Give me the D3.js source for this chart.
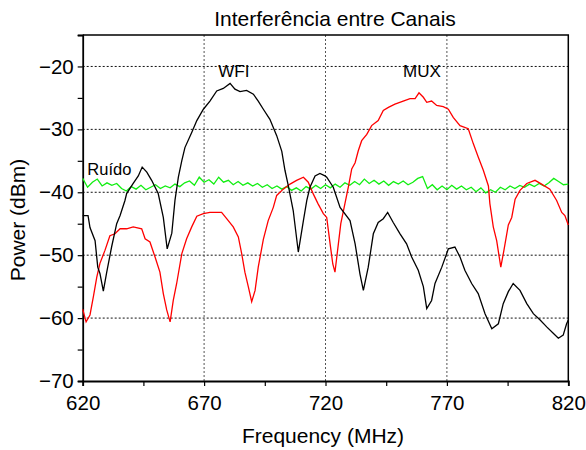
<!DOCTYPE html>
<html>
<head>
<meta charset="utf-8">
<script src="https://cdn.jsdelivr.net/npm/d3@7"></script>
<style>
  body { margin: 0; background: #fff; }
  text { font-family: "Liberation Sans", Arial, sans-serif; fill: #000; }
</style>
</head>
<body>
<div id="chart-area"></div>
<script>
// SVG Size
let width = 586,
	height = 450;

// WFI channel (black)
const wfiFreq = [620, 622.2, 623, 625.1, 626.2, 627.1, 628.5, 629.9, 631.9, 634, 635.4, 637.4, 638.1, 640.8, 642.9, 644.5,
	646.4, 648.4, 651.1, 653.2, 654.8, 656.7, 658, 659.4, 660.8, 662.1, 664.9, 667, 669.7, 672.4, 675.2, 677.9,
	680.7, 682.7, 684.8, 687.5, 690.3, 692.3, 694.4, 697.1, 699.9, 702, 703.3, 704.7, 706.7, 708.8, 710.9, 712.3,
	713.6, 715.7, 717.7, 719.8, 720.5, 723.2, 726, 730.1, 732.2, 734.2, 735.6, 737.6, 739.7, 741.7, 743.8, 745.6,
	747.9, 750.7, 753.4, 755.5, 758.2, 760.3, 761.7, 763.7, 765.1, 767.9, 770.6, 773.3, 775.4, 777.4, 780.2, 782.9,
	785.7, 788.5, 791.2, 793.2, 795.3, 797.3, 800.1, 802.9, 805.6, 808.4, 811.1, 813.8, 815.9, 817.9, 819.3, 820];
const wfiPower = [-43.7, -43.7, -45.6, -47.7, -51.9, -52.9, -55.7, -52.7, -48.7, -45, -43.7, -41.3, -40.2, -38.6, -37.4, -36,
	-36.8, -38.1, -40.2, -44, -49, -46.5, -41.3, -37.6, -35, -32.9, -30.5, -28.6, -26.8, -25.5, -23.9, -23.5,
	-22.7, -23.6, -24, -23.8, -24.4, -25.5, -26.8, -28.4, -31, -33.5, -36.5, -39, -42.9, -49.5, -44.5, -41.3,
	-39.2, -37.4, -37, -37.4, -37.6, -39.2, -42.4, -44.5, -48.2, -53, -55.6, -51.9, -46.6, -44.8, -44.2, -43.2,
	-44.8, -46.6, -48.2, -50.3, -52.4, -55, -58.5, -57.2, -54.5, -51.9, -49, -48.7, -50.3, -52.4, -54.5, -56.1,
	-59.3, -61.7, -60.9, -57.7, -55.8, -54.5, -55.6, -57.7, -59.3, -60.3, -61.4, -62.4, -63.2, -62.7, -60.9, -60.3];

// MUX channel (red)
const muxFreq = [620, 621.4, 623, 624.4, 625.8, 627.1, 629.2, 631.2, 633.3, 635.4, 638.1, 640.8, 644.3, 645.7, 647.7, 649.8,
	651.8, 653.2, 654.6, 656, 657.3, 658.7, 660.8, 662.8, 664.9, 667, 669.7, 672.4, 675.2, 677.2, 679.3, 682,
	684.1, 685.5, 686.8, 688.2, 689.6, 691, 692.3, 694.4, 696.4, 698.5, 699.9, 702.6, 705.4, 708.1, 710.9, 712.9,
	715, 716.9, 719.1, 720.5, 721.9, 723, 723.9, 725.3, 726.3, 728, 729.4, 730.8, 732.2, 733.5, 734.9, 737,
	739, 741.7, 743.8, 745.9, 748.6, 752, 754.8, 756.9, 758.5, 760.3, 761.7, 763.7, 765.8, 768.5, 770.6, 772.6,
	775.4, 778.8, 780.9, 782.9, 785, 787.1, 787.7, 789.1, 790.5, 792.2, 793.5, 795.3, 796.7, 798.1, 800.1, 802.9,
	806.3, 809, 812.4, 815.2, 817.3, 818.6, 820];
const muxPower = [-58.6, -60.6, -59.5, -56.6, -53.5, -51.3, -49.2, -46.9, -46.6, -45.8, -45.8, -45.5, -45.8, -47.4, -47.9, -50.3,
	-52.7, -56.1, -58.7, -60.6, -57.2, -54.5, -49.8, -47.4, -45.5, -43.8, -43.4, -43.2, -43.2, -43.2, -44.2, -45.5,
	-47.1, -49.8, -52.7, -55, -57.4, -55.6, -51.9, -47.5, -44.5, -42.4, -40.5, -39.5, -38.7, -38.1, -37.6, -38.4,
	-40.3, -41.8, -43.4, -44, -48.2, -51.4, -52.7, -48.2, -45, -41.8, -39.2, -36.3, -35.3, -33.4, -31.8, -30.8,
	-29.4, -28.6, -27, -26.5, -26, -25.5, -25.1, -25.1, -24.2, -24.9, -25.7, -25.5, -26.2, -26.4, -26.8, -28.1,
	-29.4, -29.9, -32.3, -34.4, -36.5, -39, -41.8, -45.5, -47.7, -51.9, -49.2, -45.2, -44, -41.1, -39.7, -38.6,
	-38.1, -38.7, -39.5, -41.3, -43.2, -43.7, -45.2];

// Noise floor (green), every 2 MHz
const noiseFreq = d3.range(620, 821, 2);
const noisePower = [-37.8, -39.2, -38.4, -37.9, -39.0, -38.5, -38.9, -38.6, -39.4, -39.8, -39.1, -39.5, -38.9, -39.6, -39.2, -38.8,
	-39.4, -39.0, -39.3, -38.7, -39.1, -38.5, -38.2, -38.9, -37.6, -38.4, -38.0, -38.7, -37.6, -38.4, -38.1, -38.8,
	-38.3, -38.9, -38.5, -39.0, -38.6, -39.2, -38.8, -39.4, -39.0, -39.5, -39.1, -39.7, -39.3, -39.8, -39.1, -39.5,
	-38.9, -39.4, -38.8, -39.3, -38.7, -39.2, -38.5, -38.9, -38.3, -38.8, -37.9, -38.6, -38.1, -38.7, -38.2, -38.9,
	-38.3, -38.7, -38.2, -38.8, -38.4, -37.8, -37.5, -39.4, -38.8, -39.6, -39.0, -39.6, -38.9, -39.5, -39.0, -39.6,
	-39.2, -39.9, -39.3, -40.1, -39.6, -40.0, -39.2, -39.6, -39.0, -39.4, -38.9, -39.2, -38.7, -39.1, -38.6, -39.0,
	-38.5, -37.8, -38.3, -38.8, -38.7];

// ticks
const xTicks = d3.range(620, 821, 25);
const yTicks = d3.range(-70, -14, 5);
const xGrid = [670, 720, 770];
const yGrid = [-60, -50, -40, -30, -20];

let pLeft = 82.7, pRight = 568.3, pTop = 35, pBottom = 381;

let xScale = d3.scaleLinear()
			.domain([620, 820])
			.range([pLeft, pRight]);

let yScale = d3.scaleLinear()
			.domain([-70, -15])
			.range([pBottom, pTop]);

let svg = d3.select("#chart-area")
			.append('svg')
			.attr('width', width)
			.attr('height', height);

// grid
svg.append('g')
	.selectAll('line')
	.data(yGrid)
	.enter()
	.append('line')
	.attr('x1', pLeft)
	.attr('x2', pRight)
	.attr('y1', d => yScale(d))
	.attr('y2', d => yScale(d))
	.attr('stroke', '#111')
	.attr('stroke-width', 1)
	.attr('stroke-dasharray', '2,2');

svg.append('g')
	.selectAll('line')
	.data(xGrid)
	.enter()
	.append('line')
	.attr('x1', d => xScale(d))
	.attr('x2', d => xScale(d))
	.attr('y1', pTop)
	.attr('y2', pBottom)
	.attr('stroke', '#555')
	.attr('stroke-width', 1)
	.attr('stroke-dasharray', '2,2');

// frame top / right
svg.append('path')
	.attr('d', `M${pLeft},${pTop}H${pRight}V${pBottom}`)
	.attr('fill', 'none')
	.attr('stroke', '#000')
	.attr('stroke-width', 1.5);

let xAxis = d3.axisBottom(xScale)
			.tickValues(xTicks)
			.tickSize(5)
			.tickPadding(9)
			.tickFormat(d => d % 50 === 20 ? d : '');

let yAxis = d3.axisLeft(yScale)
			.tickValues(yTicks)
			.tickSize(5)
			.tickPadding(4)
			.tickFormat(d => d % 10 === 0 ? d3.format('')(d) : '');

let gx = svg.append('g')
			.attr('transform', 'translate(0,' + pBottom + ')')
			.call(xAxis);
let gy = svg.append('g')
			.attr('transform', 'translate(' + pLeft + ',0)')
			.call(yAxis);

[gx, gy].forEach(g => {
	g.select('.domain').attr('stroke-width', 1.8);
	g.selectAll('.tick line').attr('stroke-width', 1.2);
	g.selectAll('.tick text')
		.style('font-family', '"Liberation Sans", Arial, sans-serif')
		.style('font-size', '20.5px');
});

// series
let line = (fs, ps) => d3.line()
			.x((d, i) => xScale(fs[i]))
			.y(d => yScale(d))(ps);

svg.append('path')
	.attr('d', line(noiseFreq, noisePower))
	.attr('fill', 'none')
	.attr('stroke', '#11ee11')
	.attr('stroke-width', 1.3);

svg.append('path')
	.attr('d', line(muxFreq, muxPower))
	.attr('fill', 'none')
	.attr('stroke', '#ff0000')
	.attr('stroke-width', 1.3);

svg.append('path')
	.attr('d', line(wfiFreq, wfiPower))
	.attr('fill', 'none')
	.attr('stroke', '#000')
	.attr('stroke-width', 1.3);

// labels
svg.append('text')
	.attr('x', 335)
	.attr('y', 26)
	.attr('text-anchor', 'middle')
	.style('font-size', '21px')
	.text('Interferência entre Canais');

svg.append('text')
	.attr('x', 323)
	.attr('y', 443)
	.attr('text-anchor', 'middle')
	.style('font-size', '21px')
	.text('Frequency (MHz)');

svg.append('text')
	.attr('transform', 'translate(25,220) rotate(-90)')
	.attr('text-anchor', 'middle')
	.style('font-size', '21px')
	.text('Power (dBm)');

svg.append('text')
	.attr('x', 218.3)
	.attr('y', 76.7)
	.style('font-size', '17px')
	.text('WFI');

svg.append('text')
	.attr('x', 403)
	.attr('y', 76.7)
	.style('font-size', '17px')
	.text('MUX');

svg.append('text')
	.attr('x', 87.3)
	.attr('y', 175)
	.style('font-size', '16.5px')
	.text('Ruído');
</script>
</body>
</html>
